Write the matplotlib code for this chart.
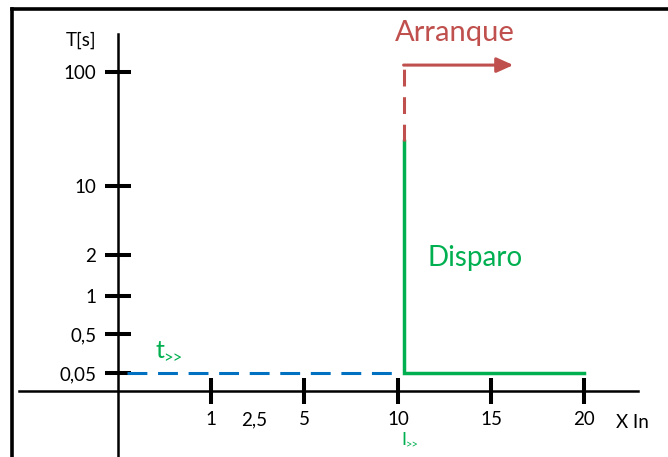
import numpy as np
import matplotlib
matplotlib.use('Agg')
import matplotlib.pyplot as plt
from matplotlib.lines import Line2D

plt.rcParams['font.family'] = ['Lato', 'DejaVu Sans']

# ticks of the (non uniform) diagram axes
x_ticks = [1, 2.5, 5, 10, 15, 20]
x_labels = ['1', '2,5', '5', '10', '15', '20']
y_ticks = [0.05, 0.5, 1, 2, 10, 100]
y_labels = ['0,05', '0,5', '1', '2', '10', '100']

# curves
blue_x = [0.1, 10]          # t>> dashed line
blue_y = [0.05, 0.05]
green_x = [10.3, 10.3, 20]  # disparo
green_y = [25, 0.05, 0.05]
red_x = [10.3, 10.3]        # arranque, dashed part
red_y = [25, 115]
arrow_x = [10.3, 16.2]
arrow_y = [115, 115]

RED = '#C0504D'
GREEN = '#00B050'
BLUE = '#0070C0'

W, H = 668, 457


def piecewise(vals, pos):
    vals = np.asarray(vals, float)
    pos = np.asarray(pos, float)
    s0 = (pos[1] - pos[0]) / (vals[1] - vals[0])
    s1 = (pos[-1] - pos[-2]) / (vals[-1] - vals[-2])

    def fwd(v):
        v = np.asarray(v, float)
        out = np.interp(v, vals, pos)
        out = np.where(v < vals[0], pos[0] + (v - vals[0]) * s0, out)
        out = np.where(v > vals[-1], pos[-1] + (v - vals[-1]) * s1, out)
        return out

    def inv(p):
        p = np.asarray(p, float)
        out = np.interp(p, pos, vals)
        out = np.where(p < pos[0], vals[0] + (p - pos[0]) / s0, out)
        out = np.where(p > pos[-1], vals[-1] + (p - pos[-1]) / s1, out)
        return out
    return fwd, inv


# where each tick sits on the drawing (pixels from left / from bottom)
fx, ix = piecewise([0, 1, 2.5, 5, 10, 15, 20], [118, 211, 254, 304, 398, 491, 584])
fly, ily = piecewise(np.log10(y_ticks), [84, 123, 161, 202, 271, 385])


def fy(v):
    return fly(np.log10(np.maximum(np.asarray(v, float), 1e-12)))


def iy(p):
    return 10 ** ily(p)


fig = plt.figure(figsize=(W / 100, H / 100), dpi=100)
ax = fig.add_axes([0, 0, 1, 1])
ax.set_xscale('function', functions=(fx, ix))
ax.set_yscale('function', functions=(fy, iy))
ax.set_xlim(ix(0), ix(W))
ax.set_ylim(iy(0), iy(H))

for s in ['top', 'right']:
    ax.spines[s].set_visible(False)
ax.spines['left'].set_position(('data', 0))
ax.spines['bottom'].set_position(('axes', 66 / H))
ax.spines['left'].set_bounds(iy(0), iy(H - 34))
ax.spines['bottom'].set_bounds(ix(19), ix(638))
for s in ['left', 'bottom']:
    ax.spines[s].set_linewidth(1.8)

ax.set_xticks(x_ticks)
ax.set_xticklabels(x_labels)
ax.set_yticks(y_ticks)
ax.set_yticklabels(y_labels)
ax.minorticks_off()
ax.tick_params(direction='inout', length=19, width=2.9, labelsize=13.5)
ax.tick_params(axis='y', pad=6)
ax.tick_params(axis='x', pad=5)
ax.xaxis.get_major_ticks()[1].tick1line.set_visible(False)

ax.plot(blue_x, blue_y, color=BLUE, lw=2.2, dashes=(6.5, 3.5))
ax.plot(green_x, green_y, color=GREEN, lw=2.5, solid_joinstyle='miter')
ax.plot(red_x, red_y, color=RED, lw=2.2, dashes=(5.5, 3.5))
ax.annotate('', xy=(arrow_x[1], arrow_y[1]), xytext=(arrow_x[0], arrow_y[0]),
            arrowprops=dict(arrowstyle='-|>,head_length=1.0,head_width=0.45',
                            color=RED, lw=2.2, shrinkA=0, shrinkB=0))

ax.text(81 / W, 1 - 40 / H, 'T[s]', transform=ax.transAxes, ha='center', va='center', fontsize=13.5)
ax.text(632 / W, 1 - 423 / H, 'X In', transform=ax.transAxes, ha='center', va='center', fontsize=13.5)
ax.text(455 / W, 1 - 33 / H, 'Arranque', transform=ax.transAxes, ha='center', va='center',
        fontsize=21, color=RED)
ax.text(475 / W, 1 - 258 / H, 'Disparo', transform=ax.transAxes, ha='center', va='center',
        fontsize=20, color=GREEN)
# t>> and I>> : letter plus small ">>" subscript
ax.text(155 / W, 1 - 351 / H, 't', transform=ax.transAxes, ha='left', va='center',
        fontsize=18, color=GREEN)
ax.text(163 / W, 1 - 358 / H, '>>', transform=ax.transAxes, ha='left', va='center',
        fontsize=12, color=GREEN)
ax.text(401 / W, 1 - 440 / H, 'I', transform=ax.transAxes, ha='left', va='center',
        fontsize=13, color=GREEN)
ax.text(406 / W, 1 - 445 / H, '>>', transform=ax.transAxes, ha='left', va='center',
        fontsize=8, color=GREEN)

# frame of the picture
fig.add_artist(Line2D([12 / W, 1], [1 - 9 / H, 1 - 9 / H], transform=fig.transFigure,
                      color='black', lw=2.6))
fig.add_artist(Line2D([12 / W, 12 / W], [0, 1 - 9 / H], transform=fig.transFigure,
                      color='black', lw=2.6))

fig.savefig('out.png', dpi=100)
